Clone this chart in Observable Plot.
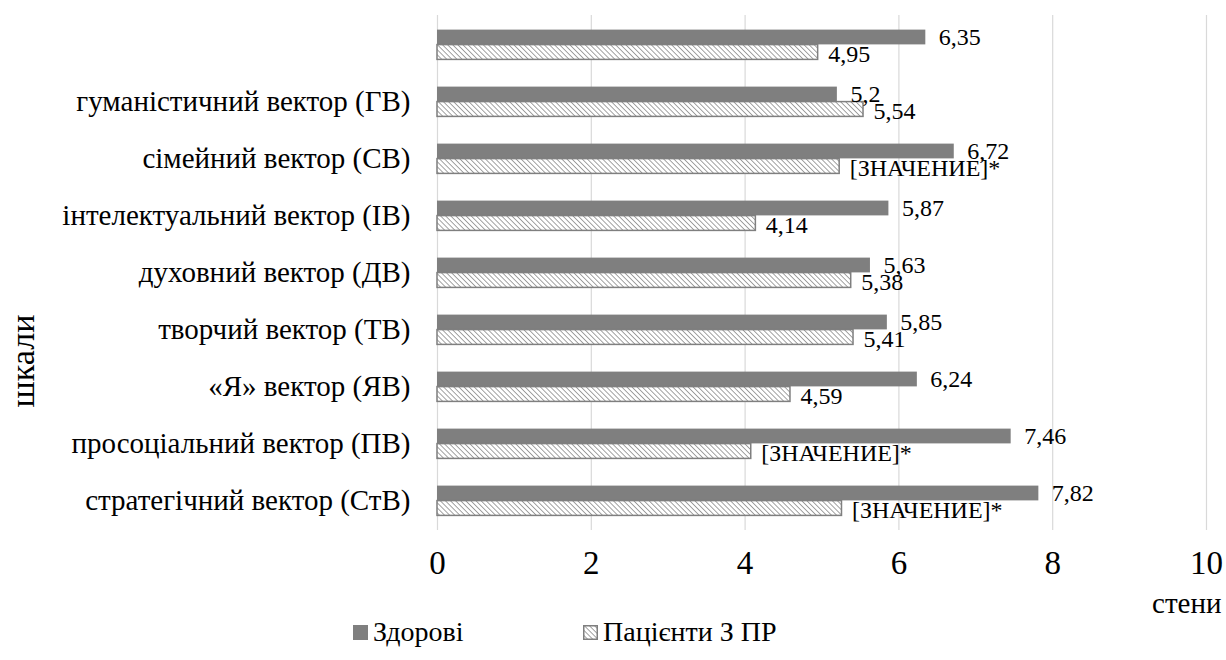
<!DOCTYPE html>
<html>
<head>
<meta charset="utf-8">
<script src="https://cdn.jsdelivr.net/npm/d3@7"></script>
<script src="https://cdn.jsdelivr.net/npm/@observablehq/plot@0.6"></script>
<style>
  body { margin: 0; background: #fff; }
  #chart { width: 1226px; }
  #chart svg, #chart svg text { font-family: "Liberation Serif", "Times New Roman", serif !important; }
  #legend { position: relative; width: 1226px; height: 45px; font-family: "Liberation Serif", "Times New Roman", serif; font-size: 28px; color: #000; }
  #legend .item { position: absolute; top: 1px; display: flex; align-items: center; gap: 5px; white-space: nowrap; }
</style>
</head>
<body>
<div id="chart"></div>
<div id="legend"></div>
<script>
const categories = [
  "",
  "гуманістичний вектор (ГВ)",
  "сімейний вектор (СВ)",
  "інтелектуальний вектор (ІВ)",
  "духовний вектор (ДВ)",
  "творчий вектор (ТВ)",
  "«Я» вектор (ЯВ)",
  "просоціальний вектор (ПВ)",
  "стратегічний вектор (СтВ)"
];
const healthy = [6.35, 5.2, 6.72, 5.87, 5.63, 5.85, 6.24, 7.46, 7.82];
const patients = [4.95, 5.54, 5.23, 4.14, 5.38, 5.41, 4.59, 4.08, 5.26];
const patientLabels = ["4,95", "5,54", "[ЗНАЧЕНИЕ]*", "4,14", "5,38", "5,41", "4,59", "[ЗНАЧЕНИЕ]*", "[ЗНАЧЕНИЕ]*"];
const series = ["Здорові", "Пацієнти З ПР"];
const xTicks = [0, 2, 4, 6, 8, 10];
const xTitle = "стени";
const yTitle = "шкали";

const fmt = v => String(v).replace(".", ",");
const rows = categories.map((c, i) => ({
  i, category: c,
  healthy: healthy[i], patient: patients[i],
  healthyLabel: fmt(healthy[i]), patientLabel: patientLabels[i]
}));

const FONT = '"Liberation Serif", "Times New Roman", serif';
const GRAY = "#7f7f7f";

const plot = Plot.plot({
  width: 1226,
  height: 615,
  marginLeft: 437,
  marginRight: 20,
  marginTop: 15,
  marginBottom: 85,
  style: { fontFamily: FONT, background: "#fff", color: "#000", overflow: "visible" },
  x: { domain: [0, 10] },
  y: { domain: d3.range(categories.length), padding: 0 },
  marks: [
    Plot.gridX(xTicks, { stroke: "#d9d9d9", strokeOpacity: 1, strokeWidth: 1.2 }),
    Plot.barX(rows, { x: "healthy", y: "i", fill: GRAY, insetTop: 13.6, insetBottom: 28.6 }),
    Plot.barX(rows, { x: "patient", y: "i", fill: "url(#hatchPat)", stroke: GRAY, strokeWidth: 1.5, insetTop: 28.6, insetBottom: 13.6 }),
    Plot.text(rows, { x: "healthy", y: "i", text: "healthyLabel", textAnchor: "start", dx: 13, dy: -8, fontSize: 24, fill: "#000" }),
    Plot.text(rows, { x: "patient", y: "i", text: "patientLabel", textAnchor: "start", dx: 10, dy: 9, fontSize: 24, fill: "#000" }),
    Plot.axisX({ ticks: xTicks, tickSize: 0, tickPadding: 20, fontSize: 33, label: null, tickFormat: d => String(d) }),
    Plot.axisY({ tickSize: 0, tickPadding: 27, fontSize: 29, label: null, tickFormat: i => categories[i] }),
    Plot.text([xTitle], { frameAnchor: "bottom-right", textAnchor: "end", dx: 15, dy: 82, fontSize: 29, fill: "#000" }),
    Plot.text([yTitle], { frameAnchor: "left", textAnchor: "middle", rotate: -90, dx: -414, dy: 88, fontSize: 34, fill: "#000" })
  ]
});

// hatch pattern definition
const svgSel = d3.select(plot);
const defs = svgSel.insert("defs", ":first-child");
function addPattern(defsSel, id) {
  const p = defsSel.append("pattern")
    .attr("id", id)
    .attr("patternUnits", "userSpaceOnUse")
    .attr("width", 3.6).attr("height", 3.6)
    .attr("patternTransform", "rotate(-45)");
  p.append("rect").attr("width", 3.6).attr("height", 3.6).attr("fill", "#ffffff");
  p.append("line").attr("x1", 0).attr("y1", 0).attr("x2", 0).attr("y2", 3.6)
    .attr("stroke", "#8c8c8c").attr("stroke-width", 1.6);
}
addPattern(defs, "hatchPat");

document.getElementById("chart").appendChild(plot);

// legend
const legend = d3.select("#legend");
const it1 = legend.append("div").attr("class", "item").style("left", "353px");
it1.append("span").style("display", "inline-block").style("width", "15px").style("height", "15px").style("background", GRAY);
it1.append("span").text(series[0]);

const it2 = legend.append("div").attr("class", "item").style("left", "583px");
const sw = it2.append("svg").attr("width", 15).attr("height", 15);
addPattern(sw.append("defs"), "hatchLeg");
sw.append("rect").attr("x", 0.75).attr("y", 0.75).attr("width", 13.5).attr("height", 13.5)
  .attr("fill", "url(#hatchLeg)").attr("stroke", GRAY).attr("stroke-width", 1.5);
it2.append("span").text(series[1]);
</script>
</body>
</html>
